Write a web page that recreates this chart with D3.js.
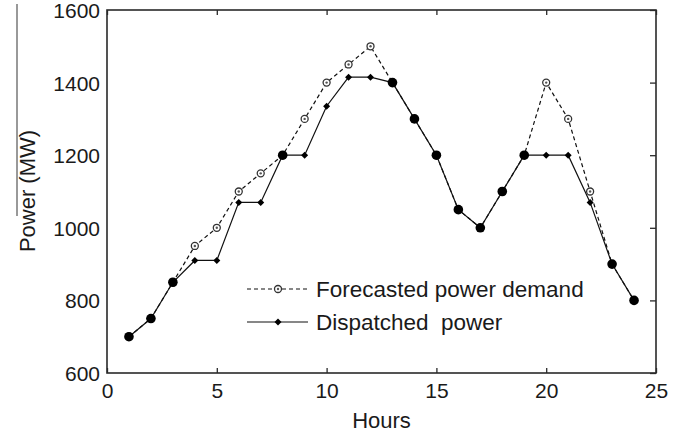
<!DOCTYPE html>
<html>
<head>
<meta charset="utf-8">
<script src="https://cdn.jsdelivr.net/npm/d3@7"></script>
<style>
  html, body { margin: 0; padding: 0; background: #fff; }
  svg { display: block; font-family: "Liberation Sans", Arial, Helvetica, sans-serif; }
</style>
</head>
<body>
<svg id="chart" width="677" height="434"></svg>
<script>
const hours = [1,2,3,4,5,6,7,8,9,10,11,12,13,14,15,16,17,18,19,20,21,22,23,24];
const forecastDemand = [700,750,850,950,1000,1100,1150,1200,1300,1400,1450,1500,1400,1300,1200,1050,1000,1100,1200,1400,1300,1100,900,800];
const dispatchedPower = [700,750,850,910,910,1070,1070,1200,1200,1335,1415,1415,1400,1300,1200,1050,1000,1100,1200,1200,1200,1070,900,800];
const xTicks = [0,5,10,15,20,25];
const yTicks = [600,800,1000,1200,1400,1600];
const legendLabels = ["Forecasted power demand", "Dispatched  power"];
const xLabel = "Hours";
const yLabel = "Power (MW)";

const svg = d3.select("#chart");
const m = {left:107, right:656, top:10, bottom:373};
const x = d3.scaleLinear().domain([0,25]).range([m.left, m.right]);
const y = d3.scaleLinear().domain([600,1600]).range([m.bottom, m.top]);
const axisColor = "#2a2a2a";

// axes
const gB = svg.append("g").attr("transform", `translate(0,${m.bottom})`)
  .call(d3.axisBottom(x).tickValues(xTicks).tickSize(-5).tickPadding(10).tickFormat(d3.format("d")));
const gT = svg.append("g").attr("transform", `translate(0,${m.top})`)
  .call(d3.axisTop(x).tickValues(xTicks).tickSize(-5).tickFormat(""));
const gR = svg.append("g").attr("transform", `translate(${m.right},0)`)
  .call(d3.axisRight(y).tickValues(yTicks).tickSize(-6).tickFormat(""));
const gL = svg.append("g").attr("transform", `translate(${m.left},0)`)
  .call(d3.axisLeft(y).tickValues(yTicks).tickSize(0).tickPadding(7).tickFormat(d3.format("d")));
[gB,gT,gR,gL].forEach(g => {
  g.select(".domain").remove();
  g.selectAll("line").attr("stroke", axisColor).attr("stroke-width", 1.3);
  g.selectAll("text").attr("fill", "#1a1a1a").style("font-size", "21px")
   .style("font-family", '"Liberation Sans", Arial, sans-serif');
});
gL.selectAll("text").attr("dy", "0.36em");
gB.selectAll("text").attr("dy", "0.71em");

svg.append("rect").attr("x", m.left).attr("y", m.top)
  .attr("width", m.right - m.left).attr("height", m.bottom - m.top)
  .attr("fill", "none").attr("stroke", axisColor).attr("stroke-width", 1.6);

// axis labels
svg.append("text").attr("x", x(12.5)).attr("y", 428).attr("text-anchor", "middle")
  .style("font-size", "22px").attr("fill", "#1a1a1a").text(xLabel);
svg.append("text").attr("transform", `translate(35,${191}) rotate(-90)`).attr("text-anchor", "middle")
  .style("font-size", "22px").attr("fill", "#1a1a1a").text(yLabel);
// scan artifact line near y label
svg.append("line").attr("x1", 17).attr("x2", 17).attr("y1", 4).attr("y2", 216)
  .attr("stroke", "#555").attr("stroke-width", 1.2);

const fData = hours.map((h,i) => ({h, v: forecastDemand[i]}));
const dData = hours.map((h,i) => ({h, v: dispatchedPower[i], same: dispatchedPower[i] === forecastDemand[i]}));
const line = d3.line().x(d => x(d.h)).y(d => y(d.v));

svg.append("path").datum(fData).attr("d", line).attr("fill", "none")
  .attr("stroke", "#111").attr("stroke-width", 1.2).attr("stroke-dasharray", "4,3");
svg.append("path").datum(dData).attr("d", line).attr("fill", "none")
  .attr("stroke", "#111").attr("stroke-width", 1.2);

const diamond = (cx, cy, r) => `M${cx},${cy-r}L${cx+r},${cy}L${cx},${cy+r}L${cx-r},${cy}Z`;

// forecast markers
const fm = svg.append("g");
fm.selectAll("circle.o").data(fData).join("circle").attr("class","o")
  .attr("cx", d => x(d.h)).attr("cy", d => y(d.v)).attr("r", 3.5)
  .attr("fill", "#fff").attr("stroke", "#333").attr("stroke-width", 1.3);
fm.selectAll("circle.c").data(fData).join("circle").attr("class","c")
  .attr("cx", d => x(d.h)).attr("cy", d => y(d.v)).attr("r", 1.2).attr("fill", "#555");

// dispatched markers
const dm = svg.append("g");
dm.selectAll("circle").data(dData.filter(d => d.same)).join("circle")
  .attr("cx", d => x(d.h)).attr("cy", d => y(d.v)).attr("r", 4.8).attr("fill", "#000");
dm.selectAll("path").data(dData.filter(d => !d.same)).join("path")
  .attr("d", d => diamond(x(d.h), y(d.v), 3.5)).attr("fill", "#000");

// legend
const lg = svg.append("g");
const lx1 = 247, lx2 = 308, lmx = 278;
const rows = [289, 322];
lg.append("line").attr("x1", lx1).attr("x2", lx2).attr("y1", rows[0]).attr("y2", rows[0])
  .attr("stroke", "#111").attr("stroke-width", 1.2).attr("stroke-dasharray", "4,3");
lg.append("circle").attr("cx", lmx).attr("cy", rows[0]).attr("r", 3.5)
  .attr("fill", "#fff").attr("stroke", "#333").attr("stroke-width", 1.3);
lg.append("circle").attr("cx", lmx).attr("cy", rows[0]).attr("r", 1.2).attr("fill", "#555");
lg.append("line").attr("x1", lx1).attr("x2", lx2).attr("y1", rows[1]).attr("y2", rows[1])
  .attr("stroke", "#111").attr("stroke-width", 1.2);
lg.append("path").attr("d", diamond(lmx, rows[1], 3.5)).attr("fill", "#000");
legendLabels.forEach((t, i) => {
  lg.append("text").attr("x", 316).attr("y", rows[i] + 8).attr("xml:space", "preserve")
    .style("white-space", "pre").style("font-size", "22.5px").attr("fill", "#1a1a1a").text(t);
});
</script>
</body>
</html>
